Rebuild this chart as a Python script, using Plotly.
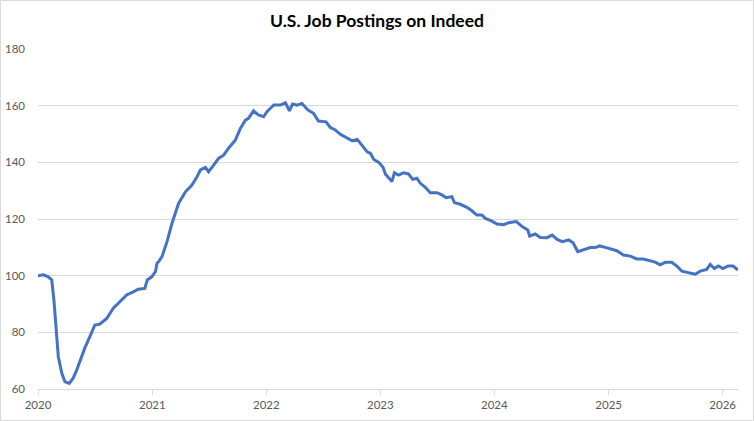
import plotly.graph_objects as go

dates = [
    "2020-02-01", "2020-02-18", "2020-03-05", "2020-03-16", "2020-03-23", "2020-03-30",
    "2020-04-06", "2020-04-17", "2020-04-27", "2020-05-11", "2020-05-24", "2020-06-04",
    "2020-06-20", "2020-06-30", "2020-07-16", "2020-08-01", "2020-08-17", "2020-09-08",
    "2020-09-29", "2020-10-20", "2020-11-11", "2020-12-02", "2020-12-18", "2021-01-08",
    "2021-01-16", "2021-01-30",
    "2021-02-11", "2021-02-16", "2021-02-21", "2021-03-04", "2021-03-20", "2021-04-05",
    "2021-04-16", "2021-04-26", "2021-05-18", "2021-06-08", "2021-06-24", "2021-07-05",
    "2021-07-21", "2021-07-31", "2021-08-17", "2021-09-01", "2021-09-18", "2021-10-03",
    "2021-10-25", "2021-11-10", "2021-11-26", "2021-12-06", "2021-12-22", "2022-01-07",
    "2022-01-23",
    "2022-02-03", "2022-02-14", "2022-02-25", "2022-03-18", "2022-04-03", "2022-04-16",
    "2022-04-26", "2022-05-10", "2022-05-26", "2022-06-14", "2022-07-02", "2022-07-18",
    "2022-08-11", "2022-08-25", "2022-09-10", "2022-09-26", "2022-10-18", "2022-11-03",
    "2022-11-19", "2022-12-05", "2022-12-21", "2022-12-31", "2023-01-11", "2023-01-27",
    "2023-02-10", "2023-02-17", "2023-02-28", "2023-03-10", "2023-03-18", "2023-03-31",
    "2023-04-16", "2023-05-02", "2023-05-16", "2023-05-29", "2023-06-09", "2023-06-25",
    "2023-07-11", "2023-08-01", "2023-08-17", "2023-08-31", "2023-09-18", "2023-09-26",
    "2023-10-15", "2023-11-05", "2023-11-21", "2023-12-07", "2023-12-23", "2024-01-03",
    "2024-01-19",
    "2024-02-10", "2024-03-02", "2024-03-18", "2024-04-11", "2024-04-30", "2024-05-18",
    "2024-05-24", "2024-06-11", "2024-06-27", "2024-07-19", "2024-08-04", "2024-08-20",
    "2024-09-05", "2024-09-26", "2024-10-10", "2024-10-25", "2024-11-13", "2024-12-04",
    "2024-12-20", "2025-01-03", "2025-01-21",
    "2025-02-11", "2025-02-27", "2025-03-08", "2025-03-20", "2025-04-11", "2025-05-02",
    "2025-05-23", "2025-06-14", "2025-06-30", "2025-07-16", "2025-08-01", "2025-08-22",
    "2025-09-07", "2025-09-23", "2025-10-14", "2025-11-05", "2025-11-21", "2025-12-12",
    "2025-12-23", "2026-01-05", "2026-01-18",
    "2026-02-02", "2026-02-18", "2026-03-06", "2026-03-22",
]

postings = [
    100.0, 100.3, 99.6, 98.5, 91.4, 80.8,
    71.4, 65.6, 62.6, 62.0, 63.9, 66.7,
    72.0, 74.5, 78.5, 82.6, 82.9, 84.9,
    88.5, 90.8, 93.2, 94.3, 95.2, 95.5,
    98.5, 99.6,
    101.4, 104.4, 104.9, 106.7, 112.0, 118.5,
    122.0, 125.5, 129.6, 132.0, 134.9, 137.3,
    138.2, 136.7, 139.1, 141.4, 142.6, 145.0,
    147.9, 152.0, 154.9, 155.5, 158.2, 156.7,
    156.1,
    157.9, 159.1, 160.2, 160.2, 161.0, 158.2,
    160.6, 160.2, 160.8, 158.5, 157.3, 154.6,
    154.3, 152.3, 151.4, 149.9, 148.5, 147.6,
    148.1, 146.1, 143.7, 143.2, 141.0, 140.0,
    138.2, 135.9, 134.4, 133.2, 136.3, 135.5,
    136.3, 135.9, 134.0, 134.4, 132.6, 131.2,
    129.3, 129.3, 128.5, 127.5, 127.9, 125.8,
    125.2, 124.1, 122.9, 121.4, 121.4, 120.2,
    119.5,
    118.2, 118.0, 118.7, 119.1, 117.3, 116.1,
    114.0, 114.7, 113.5, 113.4, 114.3, 112.8,
    112.0, 112.6, 111.6, 108.5, 109.1, 109.9,
    109.9, 110.5, 110.0,
    109.3, 108.8, 108.2, 107.3, 106.9, 105.9,
    105.9, 105.2, 104.8, 103.8, 104.7, 104.7,
    103.4, 101.6, 101.0, 100.5, 101.6, 102.2,
    104.0, 102.5, 103.4,
    102.5, 103.4, 103.4, 102.0,
]

year_ticks = ["2020-02-01", "2021-02-01", "2022-02-01", "2023-02-01",
              "2024-02-01", "2025-02-01", "2026-02-01"]
year_labels = ["2020", "2021", "2022", "2023", "2024", "2025", "2026"]
y_ticks = [60, 80, 100, 120, 140, 160, 180]

FONT = "Lato, 'Open Sans', sans-serif"

fig = go.Figure()
fig.add_trace(go.Scatter(
    x=dates, y=postings, mode="lines",
    line=dict(color="#4472C4", width=3),
    hoverinfo="x+y", showlegend=False,
))

fig.update_layout(
    width=754, height=421,
    margin=dict(l=38, r=16, t=49, b=32, autoexpand=False),
    paper_bgcolor="white", plot_bgcolor="white",
    title=dict(text="<b>U.S. Job Postings on Indeed</b>", x=0.5, xanchor="center",
               y=0.95, yanchor="middle",
               font=dict(family=FONT, size=17.5, color="#000000")),
    font=dict(family=FONT, size=11, color="#595959"),
    xaxis=dict(
        type="date", range=[dates[0], dates[-1]], automargin=False,
        tickmode="array", tickvals=year_ticks, ticktext=year_labels,
        showgrid=False, showline=True, linecolor="#d9d9d9", linewidth=1,
        ticks="outside", ticklen=5, tickcolor="#d9d9d9",
        tickfont=dict(family=FONT, size=11.5, color="#595959"),
        zeroline=False,
    ),
    yaxis=dict(
        range=[60, 180], tickmode="array", tickvals=y_ticks, automargin=False,
        showgrid=True, gridcolor="#d9d9d9", gridwidth=1,
        showline=False, zeroline=False, ticks="", ticklabelstandoff=12,
        tickfont=dict(family=FONT, size=11.5, color="#595959"),
    ),
    shapes=[dict(type="rect", xref="paper", yref="paper",
                 x0=-37.5 / 700, x1=715.5 / 700, y0=-31.5 / 340, y1=388.5 / 340,
                 line=dict(color="#d9d9d9", width=1), fillcolor="rgba(0,0,0,0)",
                 layer="below")],
)

fig.write_html("out.html", config={"displayModeBar": False},
               post_script="document.body.style.margin='0';")
